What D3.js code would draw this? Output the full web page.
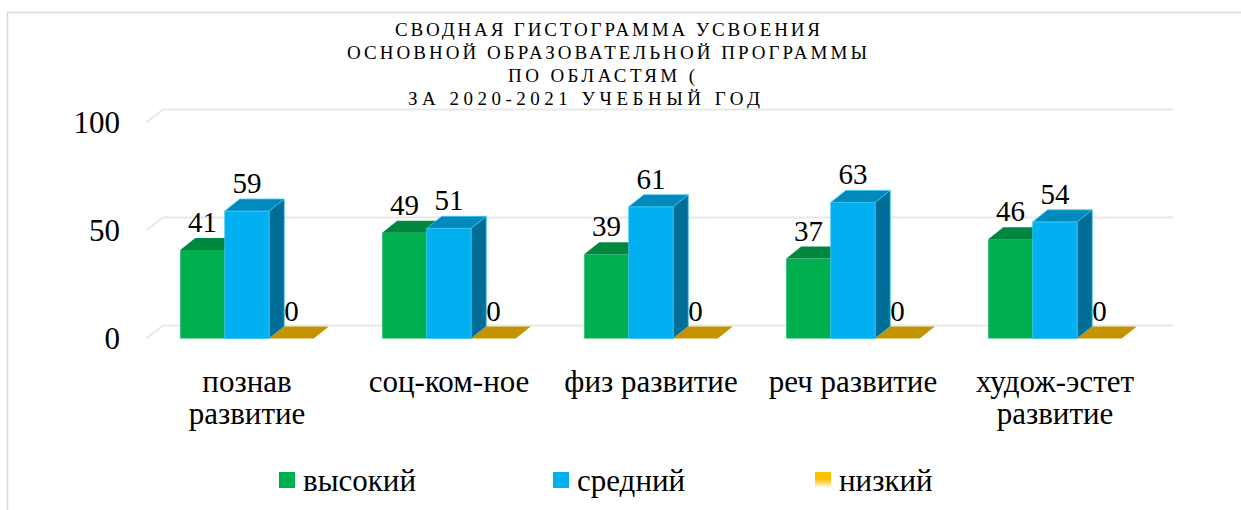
<!DOCTYPE html>
<html><head><meta charset="utf-8"><script src="https://cdn.jsdelivr.net/npm/d3@7"></script></head>
<body style="margin:0">
<script>
// data
const categories = [["познав", "развитие"], ["соц-ком-ное"], ["физ развитие"], ["реч развитие"], ["худож-эстет", "развитие"]];
const seriesNames = ["высокий", "средний", "низкий"];
const vysokiy = [41, 49, 39, 37, 46];
const sredniy = [59, 51, 61, 63, 54];
const nizkiy = [0, 0, 0, 0, 0];
const yTicks = [0, 50, 100];
const titleLines = ["СВОДНАЯ ГИСТОГРАММА УСВОЕНИЯ", "ОСНОВНОЙ ОБРАЗОВАТЕЛЬНОЙ ПРОГРАММЫ", "ПО ОБЛАСТЯМ (", "ЗА 2020-2021 УЧЕБНЫЙ ГОД"];

const seriesVals = [vysokiy, sredniy, nizkiy];
const front = ["#00B050", "#00B0F0", "#FFC000"];
const topC = ["#00873F", "#0089BD", "#C39400"];
const sideC = ["#006E33", "#006D96", "#9A7600"];
const FONT = '"Liberation Serif", Tinos, "Times New Roman", serif';

const svg = d3.select("body").append("svg").attr("width", 1241).attr("height", 510)
  .style("font-family", FONT);

function txt(sel, size) {
  return sel.append("text").style("font-family", FONT).style("font-size", size + "px");
}

// chart border
svg.append("rect").attr("x", 7.5).attr("y", 12.5).attr("width", 1400).attr("height", 700)
  .attr("fill", "none").attr("stroke", "#d9d9d9").attr("stroke-width", 1.5);

const gr = svg.append("defs").append("linearGradient").attr("id", "goldFade")
  .attr("x1", 0).attr("y1", 0).attr("x2", 0).attr("y2", 1);
gr.append("stop").attr("offset", "0.45").attr("stop-color", "#FFC000");
gr.append("stop").attr("offset", "1").attr("stop-color", "#fff");

// title
const titleX = [395, 347, 508, 408], titleW = [425, 520, 187, 352];
titleLines.forEach((t, i) => {
  txt(svg, 19).attr("x", titleX[i]).attr("y", 36 + i * 23)
    .attr("textLength", titleW[i]).attr("lengthAdjust", "spacing")
    .text(t);
});

// scales
const x = d3.scaleBand().domain(d3.range(categories.length)).range([146, 1156]).padding(0);
const xs = d3.scaleBand().domain(d3.range(3)).range([0, x.bandwidth()]).paddingInner(0).paddingOuter(0.77);
const y = d3.scaleLinear().domain([0, 100]).range([338.5, 122.5]);
const gdx = 17, gdy = -13;   // floor/wall depth
const bdx = 15, bdy = -12;   // bar depth

// gridlines + y labels
yTicks.forEach(t => {
  const yy = y(t);
  svg.append("path")
    .attr("d", `M${x.range()[0]},${yy}L${x.range()[0] + gdx},${yy + gdy}L${x.range()[1] + gdx},${yy + gdy}`)
    .attr("fill", "none").attr("stroke", "#e8e8e8").attr("stroke-width", 2);
  txt(svg, 31).attr("x", 120).attr("y", yy + 10.5).attr("text-anchor", "end").text(t);
});

// bars
categories.forEach((c, ci) => {
  seriesVals.forEach((vals, si) => {
    const v = vals[ci];
    const x0 = x(ci) + xs(si), w = xs.bandwidth();
    const yt = y(v), yb = y(0);
    const g = svg.append("g");
    const st = si === 1 ? "#3cc6f5" : "none";
    g.append("rect").attr("x", x0).attr("y", yt).attr("width", w).attr("height", yb - yt)
      .attr("fill", front[si]).attr("stroke", st).attr("stroke-width", 0.8);
    g.append("path")
      .attr("d", `M${x0},${yt}L${x0 + bdx},${yt + bdy}L${x0 + w + bdx},${yt + bdy}L${x0 + w},${yt}Z`)
      .attr("fill", topC[si]).attr("stroke", st).attr("stroke-width", 0.8);
    if (yb - yt > 0) {
      g.append("path")
        .attr("d", `M${x0 + w},${yt}L${x0 + w + bdx},${yt + bdy}L${x0 + w + bdx},${yb + bdy}L${x0 + w},${yb}Z`)
        .attr("fill", sideC[si]).attr("stroke", st).attr("stroke-width", 0.8);
    }
    txt(svg, 29).attr("x", x0 + w / 2).attr("y", yt + bdy - 6).attr("text-anchor", "middle").text(v);
  });
  // category label
  const cx = x(ci) + x.bandwidth() / 2;
  c.forEach((line, li) => {
    txt(svg, 31).attr("x", cx).attr("y", 392 + li * 32).attr("text-anchor", "middle").text(line);
  });
});

// legend
const legX = [279, 553, 815];
seriesNames.forEach((n, i) => {
  svg.append("rect").attr("x", legX[i]).attr("y", 472).attr("width", 16).attr("height", 16)
    .attr("fill", i === 2 ? "url(#goldFade)" : front[i]);
  txt(svg, 31).attr("x", legX[i] + 24).attr("y", 491).text(n);
});
</script>
</body>
</html>
